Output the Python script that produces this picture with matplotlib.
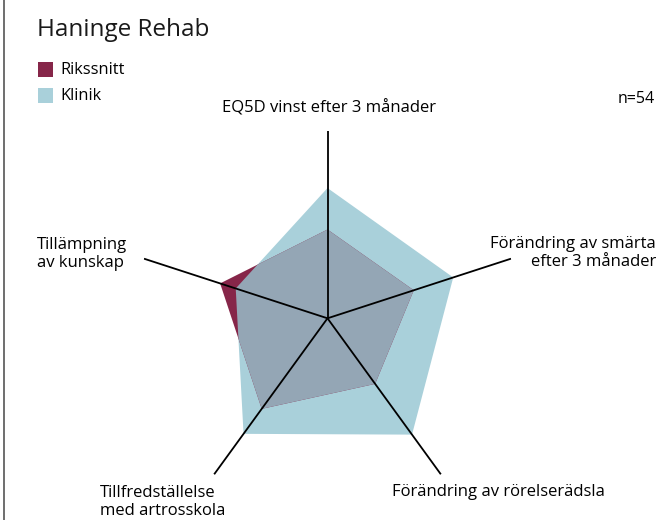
import numpy as np
import matplotlib
matplotlib.use("Agg")
import matplotlib.pyplot as plt
from matplotlib.patches import Polygon, Rectangle
from matplotlib.lines import Line2D

plt.rcParams['font.family'] = ['Open Sans', 'DejaVu Sans']

categories = ["EQ5D vinst efter 3 månader",
              "Förändring av smärta\nefter 3 månader",
              "Förändring av rörelserädsla",
              "Tillfredställelse\nmed artrosskola",
              "Tillämpning\nav kunskap"]
rikssnitt = [0.46, 0.47, 0.42, 0.58, 0.585]
klinik = [0.675, 0.685, 0.745, 0.74, 0.50]
series_names = ["Rikssnitt", "Klinik"]
n_text = "n=54"
title = "Haninge Rehab"

c_riks = "#862649"
c_klin = "#a9d0da"
c_over = "#94a6b5"

W, H = 658, 520
fig = plt.figure(figsize=(W/100, H/100), dpi=100)
cx, cy, R = 327.5, 318.3, 193
ax = fig.add_axes([(cx-R)/W, (H-cy-R)/H, 2*R/W, 2*R/H], projection='polar')
ax.set_theta_offset(np.pi/2)
ax.set_theta_direction(-1)
ax.set_ylim(0, 1)
ax.axis('off')

N = len(categories)
ang = np.arange(N) * 2*np.pi/N
axis_len = [0.97, 1, 1, 1, 1]

def verts(vals):
    return np.column_stack([ang, vals])

p_k = Polygon(verts(klinik), closed=True, facecolor=c_klin, edgecolor='none',
              transform=ax.transData, zorder=1)
ax.add_patch(p_k)
p_r = Polygon(verts(rikssnitt), closed=True, facecolor=c_riks, edgecolor='none',
              transform=ax.transData, zorder=2)
ax.add_patch(p_r)
p_o = Polygon(verts(rikssnitt), closed=True, facecolor=c_over, edgecolor='none',
              transform=ax.transData, zorder=3)
ax.add_patch(p_o)
p_o.set_clip_path(p_k)

for a, L in zip(ang, axis_len):
    ax.plot([a, a], [0, L], color='black', lw=1.3, zorder=4, solid_capstyle='butt')

fs = 12
def px(x, y):
    return x/W, 1 - y/H

fig.text(*px(37, 30), title, fontsize=17.5, va='center', ha='left', color='#1a1a1a')
fig.text(*px(655, 99), n_text, fontsize=11.5, va='center', ha='right')
fig.text(*px(329, 108), categories[0], fontsize=fs, va='center', ha='center')
fig.text(*px(656, 253), categories[1], fontsize=fs, va='center', ha='right',
         multialignment='right', linespacing=1.2)
fig.text(*px(392, 492), categories[2], fontsize=fs, va='center', ha='left')
fig.text(*px(100, 502), categories[3], fontsize=fs, va='center', ha='left',
         linespacing=1.2)
fig.text(*px(37, 254), categories[4], fontsize=fs, va='center', ha='left',
         linespacing=1.2)

# legend
for i, (name, col) in enumerate(zip(series_names, [c_riks, c_klin])):
    y = 70 + 26*i
    fig.patches.append(Rectangle(px(38, y+7), 15/W, 15/H, facecolor=col,
                                 edgecolor='none', transform=fig.transFigure))
    fig.text(*px(60, y), name, fontsize=11.8, va='center', ha='left')

fig.lines.append(Line2D([3.5/W, 3.5/W], [0, 1], color='#555555', lw=1.2,
                        transform=fig.transFigure))

fig.savefig("out.png", dpi=100)
